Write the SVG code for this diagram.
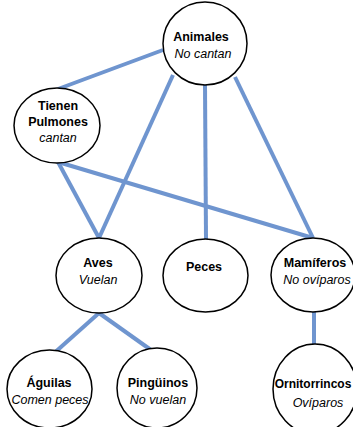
<svg xmlns="http://www.w3.org/2000/svg" width="353" height="427" viewBox="0 0 353 427">
<style>
.n ellipse{fill:#fff;stroke:#000;stroke-width:1.5}
.c line{stroke:#6F95CF;stroke-width:4;stroke-linecap:butt}
text{font-family:"Liberation Sans",Arial,sans-serif;font-size:12.5px;text-anchor:middle;fill:#000}
.b{font-weight:bold}
.i{font-style:italic}
</style>
<rect width="353" height="427" fill="#fff"/>
<g class="c" id="connectors">
<line x1="163" y1="50" x2="58" y2="89"/>
<line x1="173" y1="75" x2="99" y2="238"/>
<line x1="205" y1="85" x2="206" y2="239"/>
<line x1="235" y1="77" x2="313" y2="238"/>
<line x1="58" y1="162" x2="99" y2="238"/>
<line x1="58" y1="162" x2="313" y2="238"/>
<line x1="99" y1="313" x2="52" y2="355"/>
<line x1="99" y1="313" x2="158" y2="355"/>
<line x1="314" y1="312" x2="314" y2="344"/>
</g>
<g class="n" id="animales">
<ellipse cx="205" cy="43.5" rx="42" ry="41.5"/>
<text class="b" x="201" y="41">Animales</text>
<text class="i" x="203" y="58">No cantan</text>
</g>
<g class="n" id="pulmones">
<ellipse cx="57" cy="125.5" rx="43" ry="37.5"/>
<text class="b" x="58" y="110">Tienen</text>
<text class="b" x="58" y="126">Pulmones</text>
<text class="i" x="58" y="142">cantan</text>
</g>
<g class="n" id="aves">
<ellipse cx="99" cy="275.5" rx="43" ry="37.5"/>
<text class="b" x="98" y="267">Aves</text>
<text class="i" x="98" y="284">Vuelan</text>
</g>
<g class="n" id="peces">
<ellipse cx="205.5" cy="275.5" rx="42.5" ry="36.5"/>
<text class="b" x="204" y="271">Peces</text>
</g>
<g class="n" id="mamiferos">
<ellipse cx="313" cy="275" rx="42" ry="37"/>
<text class="b" x="315" y="267">Mamíferos</text>
<text class="i" x="317" y="284">No ovíparos</text>
</g>
<g class="n" id="aguilas">
<ellipse cx="49.5" cy="389" rx="42.5" ry="39"/>
<text class="b" x="49" y="387">Águilas</text>
<text class="i" x="50" y="404">Comen peces</text>
</g>
<g class="n" id="pinguinos">
<ellipse cx="157" cy="388" rx="40" ry="40"/>
<text class="b" x="158" y="387">Pingüinos</text>
<text class="i" x="158" y="404">No vuelan</text>
</g>
<g class="n" id="ornitorrincos">
<ellipse cx="315" cy="389" rx="42" ry="45"/>
<text class="b" x="313" y="388" style="font-size:12px">Ornitorrincos</text>
<text class="i" x="318" y="407">Ovíparos</text>
</g>
</svg>
